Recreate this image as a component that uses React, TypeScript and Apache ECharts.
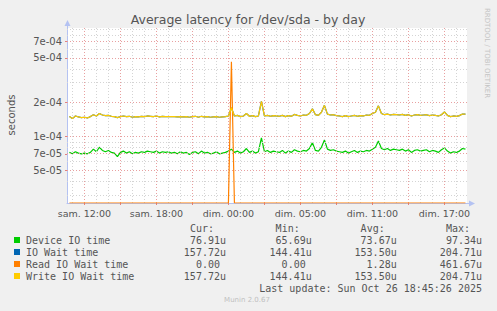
import React, { useEffect, useRef } from "react";
import * as echarts from "echarts";

// Time axis: hours since "sam. 00:00" (local time, before DST change)
const START_HOUR = 10.75;
const STEP_HOURS = 0.25;
const X_MIN = 10.55;
const X_MAX = 43.88;
const Y_MIN = -4.593; // log10(seconds)
const Y_MAX = -3.035;

// Values in microseconds
const deviceIoTime = [
  72, 70, 73, 71, 70, 71, 70, 72, 77, 73, 80, 75, 73, 75, 72, 71, 66, 72, 74, 71,
  73, 70, 72, 71, 73, 72, 74, 73, 72, 74, 71, 73, 72, 73, 71, 72, 70, 73, 71, 72,
  69, 72, 73, 70, 74, 71, 72, 70, 71, 73, 70, 71, 72, 74, 77, 72, 74, 71, 73, 78,
  72, 74, 71, 73, 97, 73, 75, 72, 74, 73, 72, 75, 71, 74, 72, 76, 74, 73, 75, 74,
  78, 88, 75, 74, 80, 93, 77, 75, 76, 74, 73, 72, 74, 71, 73, 75, 72, 74, 73, 75,
  74, 77, 80, 91, 78, 76, 78, 75, 77, 76, 75, 77, 74, 76, 72, 75, 76, 74, 75, 76,
  73, 75, 74, 72, 76, 79, 74, 71, 73, 72, 74, 78, 77,
];

const writeIoWaitTime = [
  150, 144, 152, 149, 147, 148, 146, 150, 156, 152, 160, 155, 153, 154, 151, 150, 147, 150, 152, 150,
  151, 148, 150, 149, 151, 150, 152, 151, 150, 152, 149, 151, 150, 150, 150, 150, 149, 150, 149, 150,
  148, 150, 151, 148, 151, 149, 150, 148, 149, 150, 148, 149, 150, 152, 180, 152, 154, 150, 152, 160,
  151, 153, 150, 152, 205, 152, 154, 151, 153, 152, 151, 154, 150, 153, 151, 157, 154, 152, 155, 154,
  160, 176, 156, 154, 164, 189, 158, 155, 156, 153, 152, 150, 153, 150, 152, 154, 151, 153, 152, 155,
  154, 160, 164, 187, 160, 156, 158, 155, 157, 156, 155, 157, 154, 156, 152, 155, 156, 154, 155, 156,
  153, 155, 154, 152, 156, 165, 154, 150, 152, 151, 153, 158, 158,
];

const ioWaitTime = [
  150, 144, 152, 149, 147, 148, 146, 150, 156, 152, 160, 155, 153, 154, 151, 150, 147, 150, 152, 150,
  151, 148, 150, 149, 151, 150, 152, 151, 150, 152, 149, 151, 150, 150, 150, 150, 149, 150, 149, 150,
  148, 150, 151, 148, 151, 149, 150, 148, 149, 150, 148, 149, 150, 152, 180, 152, 154, 150, 152, 160,
  151, 153, 150, 152, 205, 152, 154, 151, 153, 152, 151, 154, 150, 153, 151, 157, 154, 152, 155, 154,
  160, 176, 156, 154, 164, 189, 158, 155, 156, 153, 152, 150, 153, 150, 152, 154, 151, 153, 152, 155,
  154, 160, 164, 187, 160, 156, 158, 155, 157, 156, 155, 157, 154, 156, 152, 155, 156, 154, 155, 156,
  153, 155, 154, 152, 156, 165, 154, 150, 152, 151, 153, 158, 158,
];

const readIoWaitTime = [
  0, 0, 0, 0, 0, 0, 0, 0, 0, 0, 0, 0, 0, 0, 0, 0, 0, 0, 0, 0,
  0, 0, 0, 0, 0, 0, 0, 0, 0, 0, 0, 0, 0, 0, 0, 0, 0, 0, 0, 0,
  0, 0, 0, 0, 0, 0, 0, 0, 0, 0, 0, 0, 0, 0, 461.67, 0, 0, 0, 0, 0,
  0, 0, 0, 0, 0, 0, 0, 0, 0, 0, 0, 0, 0, 0, 0, 0, 0, 0, 0, 0,
  0, 0, 0, 0, 0, 0, 0, 0, 0, 0, 0, 0, 0, 0, 0, 0, 0, 0, 0, 0,
  0, 0, 0, 0, 0, 0, 0, 0, 0, 0, 0, 0, 0, 0, 0, 0, 0, 0, 0, 0,
  0, 0, 0, 0, 0, 0, 0, 0, 0, 0, 0, 0, 0,
];

const yMajorTicks = [5e-5, 7e-5, 1e-4, 2e-4, 5e-4, 7e-4];
const yTickLabels = ["5e-05", "7e-05", "1e-04", "2e-04", "5e-04", "7e-04"];
const yMinorGrid = [3e-5, 4e-5, 6e-5, 8e-5, 9e-5, 3e-4, 4e-4, 6e-4, 8e-4, 9e-4];

const xLabelHours = [12, 18, 24, 30, 36, 42];
const xTickLabels = ["sam. 12:00", "sam. 18:00", "dim. 00:00", "dim. 05:00", "dim. 11:00", "dim. 17:00"];
const xMajorGrid = [12, 15, 18, 21, 24, 27, 30, 33, 36, 39, 42];
const xMinorGrid = [11, 13, 14, 16, 17, 19, 20, 22, 23, 25, 26, 28, 29, 31, 32, 34, 35, 37, 38, 40, 41, 43];

const seriesNames = ["Device IO time", "IO Wait time", "Read IO Wait time", "Write IO Wait time"];
const seriesColors = ["#00CC00", "#0066B3", "#FF8000", "#FFCC00"];
const curValues = ["76.91u", "157.72u", "0.00", "157.72u"];
const minValues = ["65.69u", "144.41u", "0.00", "144.41u"];
const avgValues = ["73.67u", "153.50u", "1.28u", "153.50u"];
const maxValues = ["97.34u", "204.71u", "461.67u", "204.71u"];

const GRID = { left: 67, top: 28, width: 400, height: 175 };
const MONO = "'DejaVu Sans Mono', monospace";
const SANS = "'DejaVu Sans', sans-serif";
const AXIS_COLOR = "#b4c2f2";

function toPoints(values: number[]) {
  return values.map((v, i) => [
    START_HOUR + i * STEP_HOURS,
    v > 0 ? Math.log10(v * 1e-6) : Y_MIN,
  ]);
}

export default function App() {
  const ref = useRef<HTMLDivElement>(null);

  useEffect(() => {
    if (!ref.current) return;
    const chart = echarts.init(ref.current, undefined, { renderer: "svg" });

    const red = "#e8a0a0";
    const grey = "#d4d4d4";
    const gridLines: any[] = [
      ...yMinorGrid.map((v) => ({ yAxis: Math.log10(v), lineStyle: { color: grey } })),
      ...xMinorGrid.map((h) => ({ xAxis: h, lineStyle: { color: grey } })),
      ...yMajorTicks.map((v) => ({ yAxis: Math.log10(v), lineStyle: { color: red } })),
      ...xMajorGrid.map((h) => ({ xAxis: h, lineStyle: { color: red } })),
    ];

    const legendGraphics: any[] = [];
    const rowY = [240, 252, 264, 276];
    const colRight = [226, 311.7, 396.7, 482];
    const headers = ["Cur:", "Min:", "Avg:", "Max:"];
    const cols = [curValues, minValues, avgValues, maxValues];
    headers.forEach((h, c) => {
      legendGraphics.push({
        type: "text",
        x: colRight[c] - 12,
        y: 228,
        style: { text: h, font: `10px ${MONO}`, fill: "#555", align: "right", verticalAlign: "middle" },
      });
    });
    seriesNames.forEach((name, r) => {
      legendGraphics.push({
        type: "rect",
        shape: { x: 14, y: rowY[r] - 3, width: 6, height: 6 },
        style: { fill: seriesColors[r] },
      });
      legendGraphics.push({
        type: "text",
        x: 26,
        y: rowY[r],
        style: { text: name, font: `10px ${MONO}`, fill: "#555", align: "left", verticalAlign: "middle" },
      });
      cols.forEach((col, c) => {
        const s = col[r];
        const hasUnit = s.endsWith("u");
        legendGraphics.push({
          type: "text",
          x: colRight[c] - (hasUnit ? 0 : 6),
          y: rowY[r],
          style: { text: s, font: `10px ${MONO}`, fill: "#555", align: "right", verticalAlign: "middle" },
        });
      });
    });
    legendGraphics.push({
      type: "text",
      x: 482,
      y: 288,
      style: {
        text: "Last update: Sun Oct 26 18:45:26 2025",
        font: `10px ${MONO}`,
        fill: "#555",
        align: "right",
        verticalAlign: "middle",
      },
    });

    const mkLine = (name: string, values: number[], color: string, z: number) => ({
      name,
      type: "line",
      data: toPoints(values),
      showSymbol: false,
      symbol: "none",
      lineStyle: { color, width: 1.2 },
      itemStyle: { color },
      clip: true,
      z,
    });

    const left = GRID.left;
    const bottom = GRID.top + GRID.height;
    const right = GRID.left + GRID.width;

    chart.setOption({
      animation: false,
      backgroundColor: "#f0f0f0",
      grid: { ...GRID, show: true, backgroundColor: "#ffffff", borderWidth: 0 },
      xAxis: {
        type: "value",
        min: X_MIN,
        max: X_MAX,
        splitLine: { show: false },
        axisLine: { show: true, onZero: false, lineStyle: { color: AXIS_COLOR, width: 1 } },
        axisTick: { show: true, customValues: xMajorGrid, length: 2, lineStyle: { color: "#e08080" } },
        axisLabel: {
          customValues: xLabelHours,
          formatter: (v: number) => {
            const i = xLabelHours.findIndex((h) => Math.abs(h - v) < 1e-6);
            return i >= 0 ? xTickLabels[i] : "";
          },
          color: "#555",
          fontFamily: SANS,
          fontSize: 9.5,
          margin: 5,
        },
      },
      yAxis: {
        type: "value",
        min: Y_MIN,
        max: Y_MAX,
        splitLine: { show: false },
        axisLine: { show: true, onZero: false, lineStyle: { color: AXIS_COLOR, width: 1 } },
        axisTick: { show: true, customValues: yMajorTicks.map((v) => Math.log10(v)), length: 2, lineStyle: { color: "#e08080" } },
        axisLabel: {
          customValues: yMajorTicks.map((v) => Math.log10(v)),
          formatter: (v: number) => {
            const i = yMajorTicks.findIndex((t) => Math.abs(Math.log10(t) - v) < 1e-6);
            return i >= 0 ? yTickLabels[i] : "";
          },
          color: "#555",
          fontFamily: SANS,
          fontSize: 10,
          margin: 5,
        },
      },
      series: [
        {
          name: "grid",
          type: "line",
          data: [[X_MIN, Y_MIN]],
          showSymbol: false,
          symbol: "none",
          lineStyle: { opacity: 0 },
          silent: true,
          z: 1,
          markLine: {
            silent: true,
            symbol: "none",
            label: { show: false },
            lineStyle: { type: [1, 2], width: 1 },
            data: gridLines,
          },
        },
        mkLine(seriesNames[0], deviceIoTime, seriesColors[0], 3),
        mkLine(seriesNames[1], ioWaitTime, seriesColors[1], 4),
        mkLine(seriesNames[2], readIoWaitTime, seriesColors[2], 5),
        mkLine(seriesNames[3], writeIoWaitTime, seriesColors[3], 6),
      ],
      graphic: [
        // axis arrow heads (decoration)
        {
          type: "line",
          shape: { x1: left + 0.5, y1: GRID.top, x2: left + 0.5, y2: GRID.top - 4 },
          style: { stroke: AXIS_COLOR, lineWidth: 1 },
        },
        {
          type: "polygon",
          shape: { points: [[left - 2.5, GRID.top - 2], [left + 3.5, GRID.top - 2], [left + 0.5, GRID.top - 8]] },
          style: { fill: AXIS_COLOR },
        },
        {
          type: "line",
          shape: { x1: right, y1: bottom + 0.5, x2: right + 3, y2: bottom + 0.5 },
          style: { stroke: AXIS_COLOR, lineWidth: 1 },
        },
        {
          type: "polygon",
          shape: { points: [[right + 2, bottom - 2.5], [right + 2, bottom + 3.5], [right + 8, bottom + 0.5]] },
          style: { fill: AXIS_COLOR },
        },
        {
          type: "text",
          x: 248,
          y: 19,
          style: {
            text: "Average latency for /dev/sda - by day",
            font: `12.5px ${SANS}`,
            fill: "#555",
            align: "center",
            verticalAlign: "middle",
          },
        },
        {
          type: "text",
          x: 11,
          y: 115,
          rotation: Math.PI / 2,
          style: { text: "seconds", font: `10px ${SANS}`, fill: "#555", align: "center", verticalAlign: "middle" },
        },
        {
          type: "text",
          x: 487,
          y: 53,
          rotation: -Math.PI / 2,
          style: {
            text: "RRDTOOL / TOBI OETIKER",
            font: `7px ${SANS}`,
            fill: "#c4c4c4",
            align: "center",
            verticalAlign: "middle",
          },
        },
        {
          type: "text",
          x: 247,
          y: 300,
          style: { text: "Munin 2.0.67", font: `7px ${SANS}`, fill: "#c0c0c0", align: "center", verticalAlign: "middle" },
        },
        ...legendGraphics,
      ],
    });

    return () => chart.dispose();
  }, []);

  return (
    <div
      ref={ref}
      style={{ position: "absolute", left: 0, top: 0, width: 497, height: 311 }}
    />
  );
}
